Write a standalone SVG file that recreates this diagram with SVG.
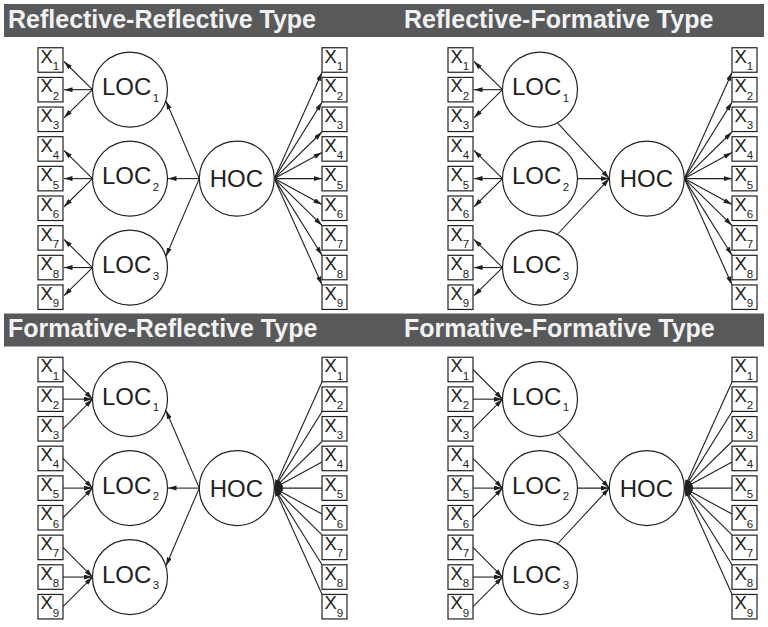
<svg xmlns="http://www.w3.org/2000/svg" width="768" height="627" viewBox="0 0 768 627">
<defs>
<style>
.bg{fill:#ffffff}
.bar{fill:#58595b}
.ht{font-family:"Liberation Sans",Arial,Helvetica,sans-serif;font-weight:bold;font-size:25px;fill:#f2f2f2}
.box{fill:#ffffff;stroke:#231f20;stroke-width:1.2}
.lv{fill:#ffffff;stroke:#231f20;stroke-width:1.2}
.x{font-family:"Liberation Sans",Arial,Helvetica,sans-serif;font-size:18.5px;fill:#231f20}
.s{font-size:11.5px}
.lt{font-family:"Liberation Sans",Arial,Helvetica,sans-serif;font-size:24px;fill:#231f20}
.c path{stroke:#231f20;stroke-width:1.1;fill:none;marker-end:url(#ah)}
</style>
<marker id="ah" markerUnits="userSpaceOnUse" markerWidth="9" markerHeight="6" refX="8.5" refY="2.5" orient="auto">
<path d="M0,0 L8.5,2.5 L0,5 z" fill="#231f20"/>
</marker>
</defs>
<rect class="bg" x="0" y="0" width="768" height="627"/>

<g id="headers">
<rect class="bar" x="4" y="4" width="760" height="33"/>
<rect class="bar" x="4" y="313.5" width="760" height="33"/>
<text class="ht" x="8" y="27.5">Reflective-Reflective Type</text>
<text class="ht" x="404" y="27.5">Reflective-Formative Type</text>
<text class="ht" x="8" y="337">Formative-Reflective Type</text>
<text class="ht" x="404" y="337">Formative-Formative Type</text>
</g>

<!-- ============ Panel: Reflective-Reflective ============ -->
<g id="rr" transform="translate(0,0)">
<g id="rr-connectors" class="c">
<path d="M92.5,89.65 L64,61.5"/><path d="M92.5,89.65 L64,89.65"/><path d="M92.5,89.65 L64,117.8"/>
<path d="M92.5,178.6 L64,150.45"/><path d="M92.5,178.6 L64,178.6"/><path d="M92.5,178.6 L64,206.75"/>
<path d="M92.5,267.55 L64,239.4"/><path d="M92.5,267.55 L64,267.55"/><path d="M92.5,267.55 L64,295.7"/>
<path d="M199.3,178.6 L166,101"/><path d="M199.3,178.6 L168,178.6"/><path d="M199.3,178.6 L166,256.2"/>
<path d="M274.3,178.6 L322,72.4"/><path d="M274.3,178.6 L322,102.2"/><path d="M274.3,178.6 L322,132"/>
<path d="M274.3,178.6 L322,152.6"/><path d="M274.3,178.6 L322,178.6"/><path d="M274.3,178.6 L322,204.6"/>
<path d="M274.3,178.6 L322,225.4"/><path d="M274.3,178.6 L322,255.2"/><path d="M274.3,178.6 L322,284.8"/>
</g>
<g id="rr-x1"><rect class="box" x="38" y="47.75" width="25" height="24.5"/><text class="x" x="40.5" y="62.7">X<tspan class="s" dy="7.3">1</tspan></text></g>
<g id="rr-x2"><rect class="box" x="38" y="77.4" width="25" height="24.5"/><text class="x" x="40.5" y="92.35">X<tspan class="s" dy="7.3">2</tspan></text></g>
<g id="rr-x3"><rect class="box" x="38" y="107.05" width="25" height="24.5"/><text class="x" x="40.5" y="122">X<tspan class="s" dy="7.3">3</tspan></text></g>
<g id="rr-x4"><rect class="box" x="38" y="136.7" width="25" height="24.5"/><text class="x" x="40.5" y="151.65">X<tspan class="s" dy="7.3">4</tspan></text></g>
<g id="rr-x5"><rect class="box" x="38" y="166.35" width="25" height="24.5"/><text class="x" x="40.5" y="181.3">X<tspan class="s" dy="7.3">5</tspan></text></g>
<g id="rr-x6"><rect class="box" x="38" y="196" width="25" height="24.5"/><text class="x" x="40.5" y="210.95">X<tspan class="s" dy="7.3">6</tspan></text></g>
<g id="rr-x7"><rect class="box" x="38" y="225.65" width="25" height="24.5"/><text class="x" x="40.5" y="240.6">X<tspan class="s" dy="7.3">7</tspan></text></g>
<g id="rr-x8"><rect class="box" x="38" y="255.3" width="25" height="24.5"/><text class="x" x="40.5" y="270.25">X<tspan class="s" dy="7.3">8</tspan></text></g>
<g id="rr-x9"><rect class="box" x="38" y="284.95" width="25" height="24.5"/><text class="x" x="40.5" y="299.9">X<tspan class="s" dy="7.3">9</tspan></text></g>
<g id="rr-loc1"><circle class="lv" cx="130" cy="89.65" r="37.5"/><text class="lt" x="102" y="95.3">LOC<tspan class="s" dx="1.5" dy="6.5">1</tspan></text></g>
<g id="rr-loc2"><circle class="lv" cx="130" cy="178.6" r="37.5"/><text class="lt" x="102" y="184.25">LOC<tspan class="s" dx="1.5" dy="6.5">2</tspan></text></g>
<g id="rr-loc3"><circle class="lv" cx="130" cy="267.55" r="37.5"/><text class="lt" x="102" y="273.2">LOC<tspan class="s" dx="1.5" dy="6.5">3</tspan></text></g>
<g id="rr-hoc"><circle class="lv" cx="236.8" cy="178.6" r="37.5"/><text class="lt" x="236.3" y="187" text-anchor="middle">HOC</text></g>
<g id="rr-y1"><rect class="box" x="322" y="47.75" width="25" height="24.5"/><text class="x" x="324.5" y="62.7">X<tspan class="s" dy="7.3">1</tspan></text></g>
<g id="rr-y2"><rect class="box" x="322" y="77.4" width="25" height="24.5"/><text class="x" x="324.5" y="92.35">X<tspan class="s" dy="7.3">2</tspan></text></g>
<g id="rr-y3"><rect class="box" x="322" y="107.05" width="25" height="24.5"/><text class="x" x="324.5" y="122">X<tspan class="s" dy="7.3">3</tspan></text></g>
<g id="rr-y4"><rect class="box" x="322" y="136.7" width="25" height="24.5"/><text class="x" x="324.5" y="151.65">X<tspan class="s" dy="7.3">4</tspan></text></g>
<g id="rr-y5"><rect class="box" x="322" y="166.35" width="25" height="24.5"/><text class="x" x="324.5" y="181.3">X<tspan class="s" dy="7.3">5</tspan></text></g>
<g id="rr-y6"><rect class="box" x="322" y="196" width="25" height="24.5"/><text class="x" x="324.5" y="210.95">X<tspan class="s" dy="7.3">6</tspan></text></g>
<g id="rr-y7"><rect class="box" x="322" y="225.65" width="25" height="24.5"/><text class="x" x="324.5" y="240.6">X<tspan class="s" dy="7.3">7</tspan></text></g>
<g id="rr-y8"><rect class="box" x="322" y="255.3" width="25" height="24.5"/><text class="x" x="324.5" y="270.25">X<tspan class="s" dy="7.3">8</tspan></text></g>
<g id="rr-y9"><rect class="box" x="322" y="284.95" width="25" height="24.5"/><text class="x" x="324.5" y="299.9">X<tspan class="s" dy="7.3">9</tspan></text></g>
</g>

<!-- ============ Panel: Reflective-Formative ============ -->
<g id="rf" transform="translate(410,0)">
<g id="rf-connectors" class="c">
<path d="M92.5,89.65 L64,61.5"/><path d="M92.5,89.65 L64,89.65"/><path d="M92.5,89.65 L64,117.8"/>
<path d="M92.5,178.6 L64,150.45"/><path d="M92.5,178.6 L64,178.6"/><path d="M92.5,178.6 L64,206.75"/>
<path d="M92.5,267.55 L64,239.4"/><path d="M92.5,267.55 L64,267.55"/><path d="M92.5,267.55 L64,295.7"/>
<path d="M147.3,122.7 L199.3,178.6"/><path d="M167.5,178.6 L199.3,178.6"/><path d="M147.3,234.5 L199.3,178.6"/>
<path d="M274.3,178.6 L322,72.4"/><path d="M274.3,178.6 L322,102.2"/><path d="M274.3,178.6 L322,132"/>
<path d="M274.3,178.6 L322,152.6"/><path d="M274.3,178.6 L322,178.6"/><path d="M274.3,178.6 L322,204.6"/>
<path d="M274.3,178.6 L322,225.4"/><path d="M274.3,178.6 L322,255.2"/><path d="M274.3,178.6 L322,284.8"/>
</g>
<g id="rf-x1"><rect class="box" x="38" y="47.75" width="25" height="24.5"/><text class="x" x="40.5" y="62.7">X<tspan class="s" dy="7.3">1</tspan></text></g>
<g id="rf-x2"><rect class="box" x="38" y="77.4" width="25" height="24.5"/><text class="x" x="40.5" y="92.35">X<tspan class="s" dy="7.3">2</tspan></text></g>
<g id="rf-x3"><rect class="box" x="38" y="107.05" width="25" height="24.5"/><text class="x" x="40.5" y="122">X<tspan class="s" dy="7.3">3</tspan></text></g>
<g id="rf-x4"><rect class="box" x="38" y="136.7" width="25" height="24.5"/><text class="x" x="40.5" y="151.65">X<tspan class="s" dy="7.3">4</tspan></text></g>
<g id="rf-x5"><rect class="box" x="38" y="166.35" width="25" height="24.5"/><text class="x" x="40.5" y="181.3">X<tspan class="s" dy="7.3">5</tspan></text></g>
<g id="rf-x6"><rect class="box" x="38" y="196" width="25" height="24.5"/><text class="x" x="40.5" y="210.95">X<tspan class="s" dy="7.3">6</tspan></text></g>
<g id="rf-x7"><rect class="box" x="38" y="225.65" width="25" height="24.5"/><text class="x" x="40.5" y="240.6">X<tspan class="s" dy="7.3">7</tspan></text></g>
<g id="rf-x8"><rect class="box" x="38" y="255.3" width="25" height="24.5"/><text class="x" x="40.5" y="270.25">X<tspan class="s" dy="7.3">8</tspan></text></g>
<g id="rf-x9"><rect class="box" x="38" y="284.95" width="25" height="24.5"/><text class="x" x="40.5" y="299.9">X<tspan class="s" dy="7.3">9</tspan></text></g>
<g id="rf-loc1"><circle class="lv" cx="130" cy="89.65" r="37.5"/><text class="lt" x="102" y="95.3">LOC<tspan class="s" dx="1.5" dy="6.5">1</tspan></text></g>
<g id="rf-loc2"><circle class="lv" cx="130" cy="178.6" r="37.5"/><text class="lt" x="102" y="184.25">LOC<tspan class="s" dx="1.5" dy="6.5">2</tspan></text></g>
<g id="rf-loc3"><circle class="lv" cx="130" cy="267.55" r="37.5"/><text class="lt" x="102" y="273.2">LOC<tspan class="s" dx="1.5" dy="6.5">3</tspan></text></g>
<g id="rf-hoc"><circle class="lv" cx="236.8" cy="178.6" r="37.5"/><text class="lt" x="236.3" y="187" text-anchor="middle">HOC</text></g>
<g id="rf-y1"><rect class="box" x="322" y="47.75" width="25" height="24.5"/><text class="x" x="324.5" y="62.7">X<tspan class="s" dy="7.3">1</tspan></text></g>
<g id="rf-y2"><rect class="box" x="322" y="77.4" width="25" height="24.5"/><text class="x" x="324.5" y="92.35">X<tspan class="s" dy="7.3">2</tspan></text></g>
<g id="rf-y3"><rect class="box" x="322" y="107.05" width="25" height="24.5"/><text class="x" x="324.5" y="122">X<tspan class="s" dy="7.3">3</tspan></text></g>
<g id="rf-y4"><rect class="box" x="322" y="136.7" width="25" height="24.5"/><text class="x" x="324.5" y="151.65">X<tspan class="s" dy="7.3">4</tspan></text></g>
<g id="rf-y5"><rect class="box" x="322" y="166.35" width="25" height="24.5"/><text class="x" x="324.5" y="181.3">X<tspan class="s" dy="7.3">5</tspan></text></g>
<g id="rf-y6"><rect class="box" x="322" y="196" width="25" height="24.5"/><text class="x" x="324.5" y="210.95">X<tspan class="s" dy="7.3">6</tspan></text></g>
<g id="rf-y7"><rect class="box" x="322" y="225.65" width="25" height="24.5"/><text class="x" x="324.5" y="240.6">X<tspan class="s" dy="7.3">7</tspan></text></g>
<g id="rf-y8"><rect class="box" x="322" y="255.3" width="25" height="24.5"/><text class="x" x="324.5" y="270.25">X<tspan class="s" dy="7.3">8</tspan></text></g>
<g id="rf-y9"><rect class="box" x="322" y="284.95" width="25" height="24.5"/><text class="x" x="324.5" y="299.9">X<tspan class="s" dy="7.3">9</tspan></text></g>
</g>

<!-- ============ Panel: Formative-Reflective ============ -->
<g id="fr" transform="translate(0,309.5)">
<g id="fr-connectors" class="c">
<path d="M63,60 L92.5,89.65"/><path d="M63,89.65 L92.5,89.65"/><path d="M63,119.3 L92.5,89.65"/>
<path d="M63,148.95 L92.5,178.6"/><path d="M63,178.6 L92.5,178.6"/><path d="M63,208.25 L92.5,178.6"/>
<path d="M63,237.9 L92.5,267.55"/><path d="M63,267.55 L92.5,267.55"/><path d="M63,297.2 L92.5,267.55"/>
<path d="M199.3,178.6 L166,101"/><path d="M199.3,178.6 L168,178.6"/><path d="M199.3,178.6 L166,256.2"/>
<path d="M322,72.4 L274.3,178.6"/><path d="M322,102.2 L274.3,178.6"/><path d="M322,132 L274.3,178.6"/>
<path d="M322,152.6 L274.3,178.6"/><path d="M322,178.6 L274.3,178.6"/><path d="M322,204.6 L274.3,178.6"/>
<path d="M322,225.4 L274.3,178.6"/><path d="M322,255.2 L274.3,178.6"/><path d="M322,284.8 L274.3,178.6"/>
</g>
<g id="fr-x1"><rect class="box" x="38" y="47.75" width="25" height="24.5"/><text class="x" x="40.5" y="62.7">X<tspan class="s" dy="7.3">1</tspan></text></g>
<g id="fr-x2"><rect class="box" x="38" y="77.4" width="25" height="24.5"/><text class="x" x="40.5" y="92.35">X<tspan class="s" dy="7.3">2</tspan></text></g>
<g id="fr-x3"><rect class="box" x="38" y="107.05" width="25" height="24.5"/><text class="x" x="40.5" y="122">X<tspan class="s" dy="7.3">3</tspan></text></g>
<g id="fr-x4"><rect class="box" x="38" y="136.7" width="25" height="24.5"/><text class="x" x="40.5" y="151.65">X<tspan class="s" dy="7.3">4</tspan></text></g>
<g id="fr-x5"><rect class="box" x="38" y="166.35" width="25" height="24.5"/><text class="x" x="40.5" y="181.3">X<tspan class="s" dy="7.3">5</tspan></text></g>
<g id="fr-x6"><rect class="box" x="38" y="196" width="25" height="24.5"/><text class="x" x="40.5" y="210.95">X<tspan class="s" dy="7.3">6</tspan></text></g>
<g id="fr-x7"><rect class="box" x="38" y="225.65" width="25" height="24.5"/><text class="x" x="40.5" y="240.6">X<tspan class="s" dy="7.3">7</tspan></text></g>
<g id="fr-x8"><rect class="box" x="38" y="255.3" width="25" height="24.5"/><text class="x" x="40.5" y="270.25">X<tspan class="s" dy="7.3">8</tspan></text></g>
<g id="fr-x9"><rect class="box" x="38" y="284.95" width="25" height="24.5"/><text class="x" x="40.5" y="299.9">X<tspan class="s" dy="7.3">9</tspan></text></g>
<g id="fr-loc1"><circle class="lv" cx="130" cy="89.65" r="37.5"/><text class="lt" x="102" y="95.3">LOC<tspan class="s" dx="1.5" dy="6.5">1</tspan></text></g>
<g id="fr-loc2"><circle class="lv" cx="130" cy="178.6" r="37.5"/><text class="lt" x="102" y="184.25">LOC<tspan class="s" dx="1.5" dy="6.5">2</tspan></text></g>
<g id="fr-loc3"><circle class="lv" cx="130" cy="267.55" r="37.5"/><text class="lt" x="102" y="273.2">LOC<tspan class="s" dx="1.5" dy="6.5">3</tspan></text></g>
<g id="fr-hoc"><circle class="lv" cx="236.8" cy="178.6" r="37.5"/><text class="lt" x="236.3" y="187" text-anchor="middle">HOC</text></g>
<g id="fr-y1"><rect class="box" x="322" y="47.75" width="25" height="24.5"/><text class="x" x="324.5" y="62.7">X<tspan class="s" dy="7.3">1</tspan></text></g>
<g id="fr-y2"><rect class="box" x="322" y="77.4" width="25" height="24.5"/><text class="x" x="324.5" y="92.35">X<tspan class="s" dy="7.3">2</tspan></text></g>
<g id="fr-y3"><rect class="box" x="322" y="107.05" width="25" height="24.5"/><text class="x" x="324.5" y="122">X<tspan class="s" dy="7.3">3</tspan></text></g>
<g id="fr-y4"><rect class="box" x="322" y="136.7" width="25" height="24.5"/><text class="x" x="324.5" y="151.65">X<tspan class="s" dy="7.3">4</tspan></text></g>
<g id="fr-y5"><rect class="box" x="322" y="166.35" width="25" height="24.5"/><text class="x" x="324.5" y="181.3">X<tspan class="s" dy="7.3">5</tspan></text></g>
<g id="fr-y6"><rect class="box" x="322" y="196" width="25" height="24.5"/><text class="x" x="324.5" y="210.95">X<tspan class="s" dy="7.3">6</tspan></text></g>
<g id="fr-y7"><rect class="box" x="322" y="225.65" width="25" height="24.5"/><text class="x" x="324.5" y="240.6">X<tspan class="s" dy="7.3">7</tspan></text></g>
<g id="fr-y8"><rect class="box" x="322" y="255.3" width="25" height="24.5"/><text class="x" x="324.5" y="270.25">X<tspan class="s" dy="7.3">8</tspan></text></g>
<g id="fr-y9"><rect class="box" x="322" y="284.95" width="25" height="24.5"/><text class="x" x="324.5" y="299.9">X<tspan class="s" dy="7.3">9</tspan></text></g>
</g>

<!-- ============ Panel: Formative-Formative ============ -->
<g id="ff" transform="translate(410,309.5)">
<g id="ff-connectors" class="c">
<path d="M63,60 L92.5,89.65"/><path d="M63,89.65 L92.5,89.65"/><path d="M63,119.3 L92.5,89.65"/>
<path d="M63,148.95 L92.5,178.6"/><path d="M63,178.6 L92.5,178.6"/><path d="M63,208.25 L92.5,178.6"/>
<path d="M63,237.9 L92.5,267.55"/><path d="M63,267.55 L92.5,267.55"/><path d="M63,297.2 L92.5,267.55"/>
<path d="M147.3,122.7 L199.3,178.6"/><path d="M167.5,178.6 L199.3,178.6"/><path d="M147.3,234.5 L199.3,178.6"/>
<path d="M322,72.4 L274.3,178.6"/><path d="M322,102.2 L274.3,178.6"/><path d="M322,132 L274.3,178.6"/>
<path d="M322,152.6 L274.3,178.6"/><path d="M322,178.6 L274.3,178.6"/><path d="M322,204.6 L274.3,178.6"/>
<path d="M322,225.4 L274.3,178.6"/><path d="M322,255.2 L274.3,178.6"/><path d="M322,284.8 L274.3,178.6"/>
</g>
<g id="ff-x1"><rect class="box" x="38" y="47.75" width="25" height="24.5"/><text class="x" x="40.5" y="62.7">X<tspan class="s" dy="7.3">1</tspan></text></g>
<g id="ff-x2"><rect class="box" x="38" y="77.4" width="25" height="24.5"/><text class="x" x="40.5" y="92.35">X<tspan class="s" dy="7.3">2</tspan></text></g>
<g id="ff-x3"><rect class="box" x="38" y="107.05" width="25" height="24.5"/><text class="x" x="40.5" y="122">X<tspan class="s" dy="7.3">3</tspan></text></g>
<g id="ff-x4"><rect class="box" x="38" y="136.7" width="25" height="24.5"/><text class="x" x="40.5" y="151.65">X<tspan class="s" dy="7.3">4</tspan></text></g>
<g id="ff-x5"><rect class="box" x="38" y="166.35" width="25" height="24.5"/><text class="x" x="40.5" y="181.3">X<tspan class="s" dy="7.3">5</tspan></text></g>
<g id="ff-x6"><rect class="box" x="38" y="196" width="25" height="24.5"/><text class="x" x="40.5" y="210.95">X<tspan class="s" dy="7.3">6</tspan></text></g>
<g id="ff-x7"><rect class="box" x="38" y="225.65" width="25" height="24.5"/><text class="x" x="40.5" y="240.6">X<tspan class="s" dy="7.3">7</tspan></text></g>
<g id="ff-x8"><rect class="box" x="38" y="255.3" width="25" height="24.5"/><text class="x" x="40.5" y="270.25">X<tspan class="s" dy="7.3">8</tspan></text></g>
<g id="ff-x9"><rect class="box" x="38" y="284.95" width="25" height="24.5"/><text class="x" x="40.5" y="299.9">X<tspan class="s" dy="7.3">9</tspan></text></g>
<g id="ff-loc1"><circle class="lv" cx="130" cy="89.65" r="37.5"/><text class="lt" x="102" y="95.3">LOC<tspan class="s" dx="1.5" dy="6.5">1</tspan></text></g>
<g id="ff-loc2"><circle class="lv" cx="130" cy="178.6" r="37.5"/><text class="lt" x="102" y="184.25">LOC<tspan class="s" dx="1.5" dy="6.5">2</tspan></text></g>
<g id="ff-loc3"><circle class="lv" cx="130" cy="267.55" r="37.5"/><text class="lt" x="102" y="273.2">LOC<tspan class="s" dx="1.5" dy="6.5">3</tspan></text></g>
<g id="ff-hoc"><circle class="lv" cx="236.8" cy="178.6" r="37.5"/><text class="lt" x="236.3" y="187" text-anchor="middle">HOC</text></g>
<g id="ff-y1"><rect class="box" x="322" y="47.75" width="25" height="24.5"/><text class="x" x="324.5" y="62.7">X<tspan class="s" dy="7.3">1</tspan></text></g>
<g id="ff-y2"><rect class="box" x="322" y="77.4" width="25" height="24.5"/><text class="x" x="324.5" y="92.35">X<tspan class="s" dy="7.3">2</tspan></text></g>
<g id="ff-y3"><rect class="box" x="322" y="107.05" width="25" height="24.5"/><text class="x" x="324.5" y="122">X<tspan class="s" dy="7.3">3</tspan></text></g>
<g id="ff-y4"><rect class="box" x="322" y="136.7" width="25" height="24.5"/><text class="x" x="324.5" y="151.65">X<tspan class="s" dy="7.3">4</tspan></text></g>
<g id="ff-y5"><rect class="box" x="322" y="166.35" width="25" height="24.5"/><text class="x" x="324.5" y="181.3">X<tspan class="s" dy="7.3">5</tspan></text></g>
<g id="ff-y6"><rect class="box" x="322" y="196" width="25" height="24.5"/><text class="x" x="324.5" y="210.95">X<tspan class="s" dy="7.3">6</tspan></text></g>
<g id="ff-y7"><rect class="box" x="322" y="225.65" width="25" height="24.5"/><text class="x" x="324.5" y="240.6">X<tspan class="s" dy="7.3">7</tspan></text></g>
<g id="ff-y8"><rect class="box" x="322" y="255.3" width="25" height="24.5"/><text class="x" x="324.5" y="270.25">X<tspan class="s" dy="7.3">8</tspan></text></g>
<g id="ff-y9"><rect class="box" x="322" y="284.95" width="25" height="24.5"/><text class="x" x="324.5" y="299.9">X<tspan class="s" dy="7.3">9</tspan></text></g>
</g>
</svg>
